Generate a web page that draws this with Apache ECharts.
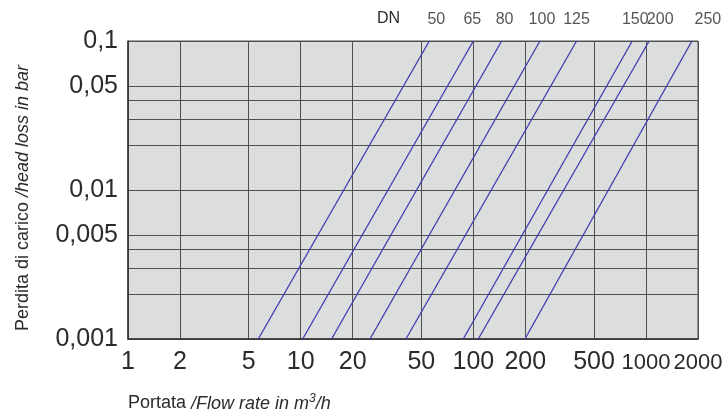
<!DOCTYPE html>
<html>
<head>
<meta charset="utf-8">
<script src="https://cdn.jsdelivr.net/npm/echarts@6/dist/echarts.min.js"></script>
<style>
html,body{margin:0;padding:0;background:#fff;}
#chart{width:724px;height:417px;}
</style>
</head>
<body>
<div id="chart"></div>
<script>
// ---- data ----
var dnLabels   = ['50', '65', '80', '100', '125', '150', '200', '250'];
var flowAtLow  = [5.68, 10.27, 15.1, 25.2, 40.7, 87.4, 106.8, 199];   // m3/h at 0.001 bar
var flowAtHigh = [55.6, 100, 145.8, 243, 396, 832, 1043, 1844];       // m3/h at 0.1 bar
var lossLow = 0.001, lossHigh = 0.1;
var xTickValues  = [1, 2, 5, 10, 20, 50, 100, 200, 500, 1000, 2000];
var yGridValues  = [0.001, 0.002, 0.003, 0.004, 0.005, 0.01, 0.02, 0.03, 0.04, 0.05, 0.1];
var yLabelValues = [0.001, 0.005, 0.01, 0.05, 0.1];

// ---- styling ----
var FONT = "'Liberation Sans', Arial, sans-serif";
var TXT = '#2b2b2b';
var GRID = '#505050';
var LINE = '#3d3db0';
var labelNudge = [7, -1, 3, 2, 0, 3, 11, 16];

var series = dnLabels.map(function (dn, i) {
  return {
    name: 'DN ' + dn,
    type: 'line',
    showSymbol: false,
    silent: true,
    animation: false,
    lineStyle: { color: LINE, width: 1.3 },
    data: [[flowAtLow[i], lossLow], [flowAtHigh[i], lossHigh]]
  };
});
series.push({
  type: 'scatter',
  symbolSize: 0,
  clip: false,
  silent: true,
  animation: false,
  data: dnLabels.map(function (dn, i) {
    return {
      value: [flowAtHigh[i], lossHigh],
      label: { show: true, position: 'top', distance: 13, offset: [labelNudge[i], 0],
               formatter: dn, fontSize: 16, color: TXT, fontFamily: FONT }
    };
  })
});

var chart = echarts.init(document.getElementById('chart'), null, { renderer: 'canvas' });
chart.setOption({
  backgroundColor: '#ffffff',
  animation: false,
  grid: {
    left: 128, right: 26, top: 41, bottom: 78,
    containLabel: false, outerBoundsMode: 'none',
    show: true, backgroundColor: '#dcdedd', borderColor: GRID, borderWidth: 1
  },
  xAxis: {
    type: 'log', logBase: 10, min: 1, max: 2000,
    axisLine: { show: true, lineStyle: { color: '#333', width: 1.5 } },
    axisTick: { show: false, customValues: xTickValues },
    splitLine: { show: true, lineStyle: { color: GRID, width: 1 } },
    axisLabel: {
      customValues: xTickValues, fontSize: 25, color: TXT, fontFamily: FONT, margin: 11,
      showMinLabel: true, showMaxLabel: true, hideOverlap: false,
      formatter: function (v) {
        var s = String(Math.round(v));
        return s.length > 3 ? '{w|' + s + '}' : s;
      },
      rich: { w: { fontSize: 22, lineHeight: 25, color: TXT, fontFamily: FONT } }
    }
  },
  yAxis: {
    type: 'log', logBase: 10, min: 0.001, max: 0.1,
    axisLine: { show: true, lineStyle: { color: '#333', width: 1.5 } },
    axisTick: { show: false, customValues: yGridValues },
    splitLine: { show: true, lineStyle: { color: GRID, width: 1 } },
    axisLabel: {
      customValues: yLabelValues, fontSize: 25, color: TXT, fontFamily: FONT, margin: 10,
      formatter: function (v) { return String(+v.toPrecision(6)).replace('.', ','); }
    }
  },
  graphic: [
    { type: 'text', left: 377, top: 11, silent: true,
      style: { text: 'DN', fontSize: 16, fill: TXT, fontFamily: FONT } },
    { type: 'text', left: 128, top: 393, silent: true,
      style: {
        text: '{n|Portata }{i|/Flow rate in m}{s|3}{i|/h}',
        fill: TXT, fontFamily: FONT, fontSize: 18,
        rich: {
          n: { fontSize: 18, fontFamily: FONT, fill: TXT },
          i: { fontSize: 18, fontStyle: 'italic', fontFamily: FONT, fill: TXT },
          s: { fontSize: 12, fontStyle: 'italic', fontFamily: FONT, fill: TXT, padding: [0, 0, 9, 0] }
        }
      } },
    { type: 'text', x: 23, y: 198, rotation: Math.PI / 2, silent: true,
      style: {
        text: '{n|Perdita di carico }{i|/head loss in bar}',
        align: 'center', verticalAlign: 'middle',
        fill: TXT, fontFamily: FONT, fontSize: 18,
        rich: {
          n: { fontSize: 18, fontFamily: FONT, fill: TXT },
          i: { fontSize: 18, fontStyle: 'italic', fontFamily: FONT, fill: TXT }
        }
      } }
  ],
  series: series
});
</script>
</body>
</html>
